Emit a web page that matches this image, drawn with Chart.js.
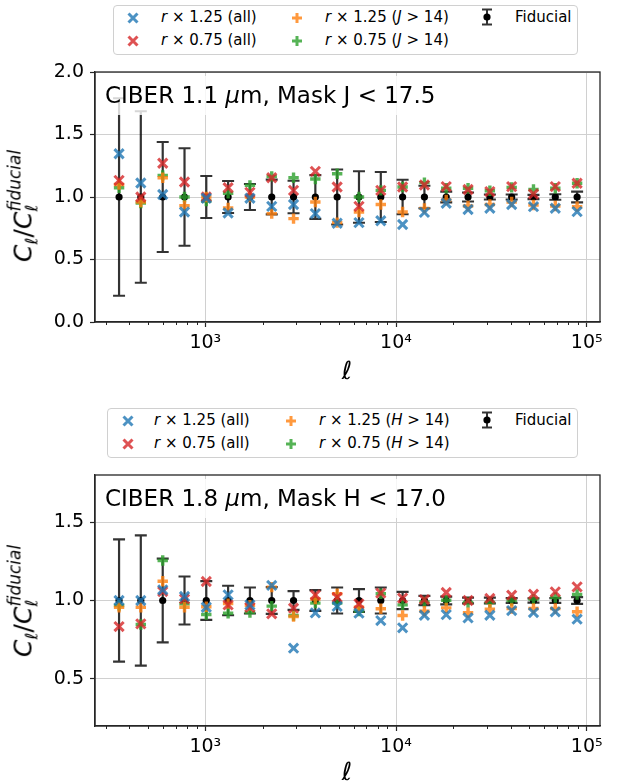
<!DOCTYPE html>
<html>
<head>
<meta charset="utf-8">
<script src="https://cdn.jsdelivr.net/npm/chart.js@4.4.1/dist/chart.umd.min.js"></script>
<style>
  body { margin: 0; width: 623px; height: 783px; position: relative; background: #fff; overflow: hidden;
         font-family: "DejaVu Sans", sans-serif; color: #000; }
  canvas { position: absolute; left: 0; }
  .legend { position: absolute; border: 1px solid #d0d0d0; border-radius: 4px; background: #fff; z-index: 3; }
  .lg-mark { position: absolute; }
  .lg-text { position: absolute; font-size: 15px; line-height: 1; white-space: nowrap; transform: translateY(-50%); }
  .tbox { position: absolute; background: rgba(255,255,255,0.8); font-size: 23px; line-height: 1;
          padding: 8px 6px 8px 6px; white-space: nowrap; z-index: 2; }
  .ylab { position: absolute; font-size: 25px; line-height: 1; white-space: nowrap;
          transform: translate(-50%, -50%) rotate(-90deg); z-index: 2; }
  .xlab { position: absolute; font-size: 25px; line-height: 1; font-style: italic;
          transform: translate(-50%, -50%); z-index: 2; }
  .it { font-style: italic; }
  .sub { font-size: 17px; font-style: italic; position: relative; top: 6px; }
  .stk { display: inline-flex; flex-direction: column; font-size: 17px; line-height: 1; font-style: italic;
         position: relative; top: -11px; }
</style>
</head>
<body>
<canvas id="cJ" width="623" height="395" style="top:0"></canvas>
<canvas id="cH" width="623" height="388" style="top:395px"></canvas>

<div class="legend" id="legJ" style="left:113px;top:5px;width:463px;height:48px"></div>
<div class="legend" id="legH" style="left:107px;top:408px;width:469px;height:48px"></div>

<div class="tbox" style="left:99px;top:76px">CIBER 1.1 <span class="it">μ</span>m, Mask J &lt; 17.5</div>
<div class="tbox" style="left:99px;top:479px">CIBER 1.8 <span class="it">μ</span>m, Mask H &lt; 17.0</div>

<div class="ylab" style="left:31px;top:206px"><span class="it">C</span><span class="sub">ℓ</span>/<span class="it">C</span><span class="stk"><span>fiducial</span><span>ℓ</span></span></div>
<div class="ylab" style="left:31px;top:601px"><span class="it">C</span><span class="sub">ℓ</span>/<span class="it">C</span><span class="stk"><span>fiducial</span><span>ℓ</span></span></div>

<div class="xlab" style="left:347px;top:370px">ℓ</div>
<div class="xlab" style="left:347px;top:771px">ℓ</div>

<script>
// Multipole bin centres
const ell = [353, 459, 598, 778, 1012, 1317, 1714, 2230, 2902, 3776, 4914,
             6395, 8322, 10829, 14092, 18338, 23864, 31055, 40412, 52588, 68433, 89051];

// 1.1 um band, mask J < 17.5
const fiducialJ = [1, 1, 1, 1, 1, 1, 1, 1, 1, 1, 1, 1, 1, 1, 1, 1, 1, 1, 1, 1, 1, 1];
const errJ = [0.79, 0.686, 0.44, 0.39, 0.168, 0.128, 0.104, 0.139, 0.13, 0.175, 0.22,
              0.206, 0.20, 0.138, 0.09, 0.043, 0.036, 0.02, 0.02, 0.017, 0.022, 0.043];
const r125AllJ = [1.346, 1.112, 1.02, 0.88, 0.99, 0.872, 0.99, 0.925, 0.94, 0.867, 0.79,
                  0.795, 0.81, 0.78, 0.877, 0.95, 0.90, 0.91, 0.94, 0.923, 0.91, 0.883];
const r075AllJ = [1.133, 1.0, 1.27, 1.12, 1.0, 1.074, 1.037, 1.154, 1.053, 1.205, 1.08,
                  0.925, 1.053, 1.08, 1.096, 1.083, 1.06, 1.043, 1.083, 1.024, 1.083, 1.11];
const r125CutJ = [1.10, 0.96, 1.154, 0.93, 1.0, 0.912, 1.0, 0.867, 0.827, 0.96, 0.795,
                  0.88, 0.94, 0.88, 0.909, 0.976, 0.928, 0.94, 0.96, 0.936, 0.928, 0.923];
const r075CutJ = [1.074, 0.952, 1.173, 1.0, 0.968, 1.03, 1.093, 1.165, 1.154, 1.144, 1.186,
                  1.0, 1.053, 1.08, 1.115, 1.07, 1.07, 1.05, 1.077, 1.06, 1.07, 1.11];

// 1.8 um band, mask H < 17.0
const fiducialH = [1, 1, 1, 1, 1, 1, 1, 1, 1, 1, 1, 1, 1, 1, 1, 1, 1, 1, 1, 1, 1, 1];
const errH = [0.39, 0.415, 0.267, 0.153, 0.123, 0.094, 0.083, 0.085, 0.06, 0.066, 0.083,
              0.072, 0.083, 0.055, 0.03, 0.025, 0.018, 0.018, 0.015, 0.013, 0.015, 0.021];
const r125AllH = [1.0, 1.0, 1.068, 1.026, 0.957, 1.036, 0.972, 1.096, 0.696, 0.921, 0.962,
                  0.919, 0.872, 0.826, 0.906, 0.91, 0.889, 0.906, 0.936, 0.923, 0.928, 0.881];
const r075AllH = [0.834, 0.851, 1.057, 1.01, 1.121, 0.972, 0.957, 0.915, 0.951, 1.036, 1.02,
                  0.979, 1.047, 1.015, 1.006, 1.051, 1.0, 1.013, 1.034, 1.04, 1.055, 1.087];
const r125CutH = [0.957, 0.957, 1.123, 0.957, 0.96, 0.98, 0.97, 1.085, 0.898, 1.01, 1.043,
                  0.957, 0.947, 0.904, 0.932, 0.953, 0.923, 0.945, 0.949, 0.949, 0.949, 0.928];
const r075CutH = [0.968, 0.847, 1.255, 0.979, 0.911, 0.919, 0.923, 0.964, 0.904, 0.983, 0.983,
                  0.932, 1.043, 0.972, 0.99, 1.002, 0.987, 0.987, 1.0, 1.009, 1.019, 1.038];

// Axis ticks
const xTicks = [300, 400, 500, 600, 700, 800, 900, 1000, 2000, 3000, 4000, 5000, 6000, 7000, 8000, 9000,
                10000, 20000, 30000, 40000, 50000, 60000, 70000, 80000, 90000, 100000];
const xDecadeLabels = { 1000: '10³', 10000: '10⁴', 100000: '10⁵' };
const yTicksJ = [0.0, 0.5, 1.0, 1.5, 2.0];
const yTicksH = [0.5, 1.0, 1.5];

// Legend labels
const legendJ = ['<i>r</i> × 1.25 (all)', '<i>r</i> × 0.75 (all)', '<i>r</i> × 1.25 (<i>J</i> &gt; 14)',
                 '<i>r</i> × 0.75 (<i>J</i> &gt; 14)', 'Fiducial'];
const legendH = ['<i>r</i> × 1.25 (all)', '<i>r</i> × 0.75 (all)', '<i>r</i> × 1.25 (<i>H</i> &gt; 14)',
                 '<i>r</i> × 0.75 (<i>H</i> &gt; 14)', 'Fiducial'];

const BLUE = 'rgba(31,119,180,0.8)';
const RED = 'rgba(214,39,40,0.8)';
const ORANGE = 'rgba(255,127,14,0.8)';
const GREEN = 'rgba(44,160,44,0.8)';
const INK = 'rgba(0,0,0,0.8)';
const GRID = '#d0d0d0';
const SPINE = '#262626';

const isDecade = v => Math.abs(Math.log10(v) - Math.round(Math.log10(v))) < 1e-9;
const pts = ys => ell.map((l, i) => ({ x: l, y: ys[i] }));

// Error bars of the fiducial series, frame spines and minor x ticks
const framePlugin = {
  id: 'frame',
  beforeDatasetDraw(chart, args) {
    const o = chart.options.plugins.frame;
    if (args.index !== o.errIndex) return;
    const ctx = chart.ctx, xs = chart.scales.x, ys = chart.scales.y, a = chart.chartArea;
    ctx.save();
    ctx.beginPath(); ctx.rect(a.left, a.top, a.right - a.left, a.bottom - a.top); ctx.clip();
    ctx.strokeStyle = INK; ctx.lineWidth = 2.2; ctx.lineCap = 'butt';
    o.centres.forEach((c, i) => {
      const px = xs.getPixelForValue(ell[i]);
      const lo = ys.getPixelForValue(c - o.errs[i]);
      const hi = ys.getPixelForValue(c + o.errs[i]);
      ctx.beginPath();
      ctx.moveTo(px, lo); ctx.lineTo(px, hi);
      ctx.moveTo(px - 6, lo); ctx.lineTo(px + 6, lo);
      ctx.moveTo(px - 6, hi); ctx.lineTo(px + 6, hi);
      ctx.stroke();
    });
    ctx.restore();
  },
  afterDraw(chart) {
    const ctx = chart.ctx, a = chart.chartArea, xs = chart.scales.x;
    ctx.save();
    ctx.strokeStyle = SPINE; ctx.lineWidth = 1;
    xs.ticks.forEach(t => {
      if (isDecade(t.value)) return;
      const px = Math.round(xs.getPixelForValue(t.value)) + 0.5;
      ctx.beginPath(); ctx.moveTo(px, a.bottom); ctx.lineTo(px, a.bottom + 3); ctx.stroke();
    });
    ctx.lineWidth = 1.3;
    ctx.strokeRect(a.left, a.top, a.right - a.left, a.bottom - a.top);
    ctx.restore();
  }
};

function makePanel(id, opts) {
  const series = [
    { data: pts(opts.r125All), pointStyle: 'crossRot', borderColor: BLUE, pointRadius: 6.5, pointBorderWidth: 3 },
    { data: pts(opts.r075All), pointStyle: 'crossRot', borderColor: RED, pointRadius: 6.5, pointBorderWidth: 3 },
    { data: pts(opts.r125Cut), pointStyle: 'cross', borderColor: ORANGE, pointRadius: 5.2, pointBorderWidth: 3.4 },
    { data: pts(opts.r075Cut), pointStyle: 'cross', borderColor: GREEN, pointRadius: 5.2, pointBorderWidth: 3.4 },
    { data: pts(opts.fiducial), pointStyle: 'circle', backgroundColor: '#000', borderColor: '#000',
      pointRadius: 3.6, pointBorderWidth: 0 }
  ].map(d => Object.assign({ showLine: false, pointHoverRadius: d.pointRadius }, d));

  return new Chart(document.getElementById(id), {
    type: 'scatter',
    data: { datasets: series },
    options: {
      responsive: false, animation: false, events: [],
      layout: { padding: opts.padding },
      plugins: {
        legend: { display: false }, tooltip: { enabled: false },
        frame: { errIndex: 4, centres: opts.fiducial, errs: opts.errs }
      },
      scales: {
        x: {
          type: 'logarithmic', min: 264, max: 117400,
          afterBuildTicks: s => { s.ticks = xTicks.map(v => ({ value: v })); },
          afterFit: s => { s.height = 50; },
          ticks: {
            autoSkip: false, maxRotation: 0, minRotation: 0, padding: 5, color: '#000',
            font: { family: 'DejaVu Sans', size: 19 },
            callback: v => xDecadeLabels[Math.round(v)] || ''
          },
          grid: {
            color: c => (c.tick && isDecade(c.tick.value)) ? GRID : 'rgba(0,0,0,0)',
            tickColor: c => (c.tick && isDecade(c.tick.value)) ? SPINE : 'rgba(0,0,0,0)',
            lineWidth: 1, tickLength: 5, tickWidth: 1.2
          },
          border: { display: true, color: SPINE, width: 1.3 }
        },
        y: {
          type: 'linear', min: opts.yMin, max: opts.yMax,
          afterBuildTicks: s => { s.ticks = opts.yTicks.map(v => ({ value: v })); },
          afterFit: s => { s.width = 95; },
          ticks: {
            padding: 6, color: '#000', font: { family: 'DejaVu Sans', size: 19 },
            callback: v => Number(v).toFixed(1)
          },
          grid: { color: GRID, lineWidth: 1, tickLength: 5, tickColor: SPINE, tickWidth: 1.2 },
          border: { display: true, color: SPINE, width: 1.3 }
        }
      }
    },
    plugins: [framePlugin]
  });
}

makePanel('cJ', {
  fiducial: fiducialJ, errs: errJ, r125All: r125AllJ, r075All: r075AllJ, r125Cut: r125CutJ, r075Cut: r075CutJ,
  yMin: 0, yMax: 2, yTicks: yTicksJ,
  padding: { top: 72, right: 23, bottom: 23, left: 0 }
});
makePanel('cH', {
  fiducial: fiducialH, errs: errH, r125All: r125AllH, r075All: r075AllH, r125Cut: r125CutH, r075Cut: r075CutH,
  yMin: 0.2, yMax: 1.8, yTicks: yTicksH,
  padding: { top: 80, right: 23, bottom: 7, left: 0 }
});

// Legend boxes: markers drawn as small SVGs, labels as text
function marker(kind, color) {
  const s = 'stroke="' + color + '" stroke-width="3"';
  if (kind === 'x') return '<svg width="14" height="14"><path d="M2.5 2.5L11.5 11.5M11.5 2.5L2.5 11.5" ' + s + '/></svg>';
  if (kind === '+') return '<svg width="14" height="14"><path d="M7 2V12M2 7H12" ' + s + ' stroke-width="3.4"/></svg>';
  return '<svg width="14" height="18"><g stroke="' + color + '" stroke-width="2"><path d="M7 1.5V16.5M2 1.5H12M2 16.5H12"/></g>' +
         '<circle cx="7" cy="9" r="3.6" fill="#000"/></svg>';
}
function buildLegend(id, labels, box, cols, rows) {
  const el = document.getElementById(id);
  const kinds = [['x', BLUE], ['x', RED], ['+', ORANGE], ['+', GREEN], ['e', INK]];
  const place = [[0, 0], [0, 1], [1, 0], [1, 1], [2, 0]];
  labels.forEach((lab, i) => {
    const c = cols[place[i][0]], ry = rows[place[i][1]] - box.top;
    const m = document.createElement('div');
    m.className = 'lg-mark';
    m.innerHTML = marker(kinds[i][0], kinds[i][1]);
    const h = kinds[i][0] === 'e' ? 18 : 14;
    m.style.left = (c.m - box.left - 7) + 'px';
    m.style.top = (ry - h / 2) + 'px';
    m.style.height = h + 'px';
    el.appendChild(m);
    const t = document.createElement('div');
    t.className = 'lg-text';
    t.innerHTML = lab;
    t.style.left = (c.t - box.left) + 'px';
    t.style.top = ry + 'px';
    el.appendChild(t);
  });
}
buildLegend('legJ', legendJ, { left: 114, top: 6 },
            [{ m: 133, t: 161 }, { m: 297, t: 325 }, { m: 487, t: 515 }], [17, 40]);
buildLegend('legH', legendH, { left: 108, top: 409 },
            [{ m: 128, t: 154 }, { m: 291, t: 319 }, { m: 487, t: 515 }], [420, 443]);
</script>
</body>
</html>
